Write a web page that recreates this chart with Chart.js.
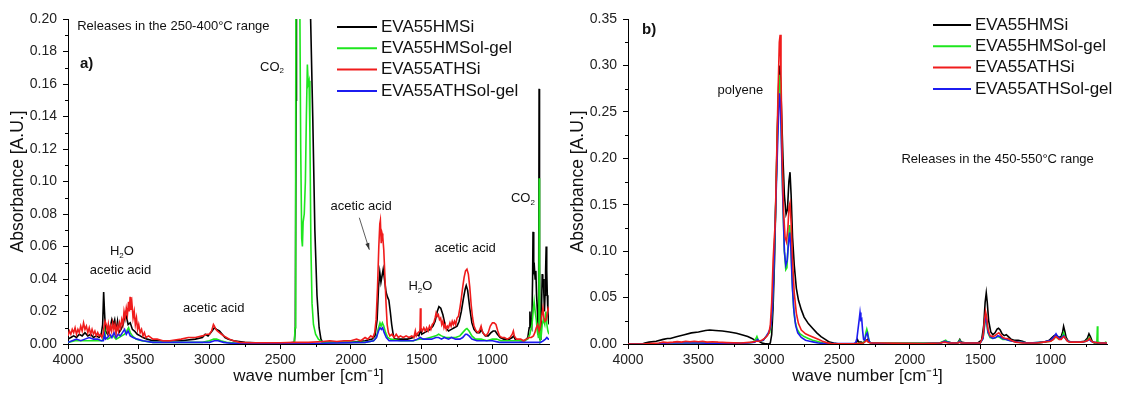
<!DOCTYPE html>
<html>
<head>
<meta charset="utf-8">
<script src="https://cdn.jsdelivr.net/npm/chart.js@4.4.1/dist/chart.umd.min.js"></script>
<style>
  body { margin: 0; background: #fff; }
  #wrap { position: relative; width: 1126px; height: 394px; }
  .panel { position: absolute; top: 0; height: 394px; }
</style>
</head>
<body>
<div id="wrap">
  <div class="panel" style="left:0;width:560px"><canvas id="chartA"></canvas></div>
  <div class="panel" style="left:560px;width:566px"><canvas id="chartB"></canvas></div>
</div>
<script>
const seriesNames = ['EVA55HMSi', 'EVA55HMSol-gel', 'EVA55ATHSi', 'EVA55ATHSol-gel'];
const seriesColors = ['#000000', '#1ee61e', '#f01c1c', '#1c1cf0'];

const xTicks = [4000, 3500, 3000, 2500, 2000, 1500, 1000];
const xMinor = [3750, 3250, 2750, 2250, 1750, 1250, 750];
const yTicksA = [0, 0.02, 0.04, 0.06, 0.08, 0.10, 0.12, 0.14, 0.16, 0.18, 0.20];
const yMinorA = [0.01, 0.03, 0.05, 0.07, 0.09, 0.11, 0.13, 0.15, 0.17, 0.19];
const yTicksB = [0, 0.05, 0.10, 0.15, 0.20, 0.25, 0.30, 0.35];
const yMinorB = [0.025, 0.075, 0.125, 0.175, 0.225, 0.275, 0.325];

// panel a) releases 250-400 °C  [wave number, absorbance]
const hmsiA = [[4000,0.003],[3980,0.004],[3960,0.005],[3940,0.004],[3920,0.006],[3900,0.005],[3880,0.007],[3860,0.005],[3840,0.006],[3820,0.004],[3800,0.005],[3780,0.004],[3765,0.006],[3755,0.012],[3748,0.032],[3742,0.02],[3735,0.008],[3720,0.006],[3705,0.009],[3690,0.015],[3680,0.012],[3670,0.015],[3660,0.008],[3650,0.014],[3640,0.007],[3625,0.009],[3610,0.012],[3595,0.019],[3585,0.016],[3575,0.012],[3560,0.013],[3545,0.009],[3530,0.008],[3510,0.006],[3490,0.005],[3470,0.004],[3440,0.003],[3400,0.002],[3300,0.002],[3200,0.002],[3100,0.003],[3050,0.004],[3030,0.006],[3010,0.005],[2990,0.007],[2965,0.01],[2950,0.009],[2930,0.008],[2910,0.006],[2890,0.004],[2870,0.003],[2830,0.002],[2750,0.001],[2600,0.0005],[2450,0.0005],[2400,0.001],[2393,0.01],[2388,0.15],[2385,0.25],[2300,0.25],[2285,0.2],[2270,0.14],[2255,0.07],[2240,0.03],[2225,0.01],[2212,0.003],[2200,0.001],[2100,0.001],[2000,0.001],[1900,0.002],[1850,0.003],[1830,0.005],[1815,0.015],[1805,0.035],[1796,0.044],[1788,0.038],[1780,0.042],[1772,0.046],[1763,0.04],[1752,0.032],[1742,0.029],[1732,0.027],[1722,0.02],[1712,0.012],[1700,0.005],[1690,0.003],[1650,0.003],[1600,0.003],[1560,0.004],[1540,0.006],[1520,0.005],[1508,0.009],[1500,0.006],[1480,0.007],[1460,0.008],[1440,0.009],[1420,0.011],[1405,0.014],[1390,0.02],[1378,0.023],[1365,0.022],[1350,0.018],[1340,0.014],[1330,0.01],[1310,0.008],[1290,0.009],[1270,0.01],[1250,0.011],[1235,0.014],[1220,0.02],[1205,0.028],[1192,0.034],[1185,0.036],[1175,0.033],[1160,0.022],[1145,0.013],[1130,0.009],[1110,0.007],[1090,0.007],[1078,0.009],[1068,0.007],[1050,0.005],[1030,0.005],[1010,0.007],[995,0.008],[980,0.008],[965,0.006],[945,0.004],[920,0.003],[880,0.003],[860,0.004],[850,0.005],[840,0.003],[800,0.002],[770,0.002],[750,0.004],[740,0.01],[735,0.02],[730,0.012],[722,0.01],[716,0.04],[713,0.069],[708,0.045],[703,0.047],[698,0.04],[693,0.045],[688,0.03],[682,0.02],[677,0.006],[673,0.03],[670,0.157],[667,0.05],[663,0.003],[658,0.005],[653,0.02],[648,0.043],[644,0.035],[640,0.04],[636,0.03],[632,0.02],[628,0.03],[624,0.045],[620,0.06],[616,0.045],[612,0.03],[608,0.02],[604,0.015],[600,0.012]];
const hmsolA = [[4000,0.001],[3950,0.002],[3900,0.002],[3850,0.002],[3800,0.002],[3760,0.002],[3748,0.004],[3740,0.008],[3735,0.004],[3720,0.003],[3700,0.004],[3680,0.005],[3660,0.003],[3640,0.004],[3620,0.005],[3600,0.006],[3585,0.008],[3572,0.010],[3560,0.007],[3545,0.005],[3520,0.003],[3480,0.002],[3400,0.001],[3200,0.001],[3050,0.001],[3000,0.002],[2970,0.003],[2950,0.003],[2920,0.002],[2880,0.001],[2800,0.0005],[2420,0.0005],[2400,0.001],[2395,0.01],[2391,0.12],[2388,0.25],[2370,0.25],[2362,0.22],[2355,0.12],[2348,0.065],[2343,0.06],[2338,0.075],[2330,0.08],[2322,0.10],[2315,0.14],[2308,0.172],[2302,0.16],[2296,0.162],[2290,0.13],[2283,0.06],[2275,0.025],[2265,0.012],[2250,0.006],[2230,0.003],[2200,0.001],[2000,0.001],[1900,0.001],[1840,0.002],[1820,0.004],[1808,0.009],[1795,0.013],[1787,0.011],[1778,0.013],[1768,0.011],[1755,0.007],[1740,0.004],[1720,0.003],[1650,0.002],[1560,0.002],[1520,0.003],[1480,0.003],[1440,0.004],[1400,0.005],[1380,0.006],[1360,0.005],[1330,0.004],[1300,0.004],[1260,0.004],[1230,0.005],[1210,0.007],[1190,0.009],[1180,0.0095],[1165,0.008],[1145,0.005],[1120,0.003],[1080,0.003],[1040,0.002],[1000,0.003],[970,0.003],[940,0.002],[850,0.002],[780,0.002],[750,0.003],[735,0.006],[720,0.012],[712,0.02],[705,0.026],[698,0.02],[690,0.015],[683,0.008],[675,0.004],[671,0.03],[669,0.102],[667,0.03],[663,0.002],[655,0.005],[648,0.012],[640,0.015],[630,0.012],[622,0.02],[615,0.012],[608,0.008],[600,0.006]];
const athsiA = [[4000,0.005],[3990,0.008],[3980,0.006],[3970,0.009],[3960,0.007],[3950,0.010],[3940,0.006],[3930,0.009],[3920,0.007],[3910,0.011],[3900,0.008],[3890,0.013],[3880,0.009],[3870,0.011],[3860,0.007],[3850,0.010],[3840,0.006],[3830,0.009],[3820,0.006],[3810,0.008],[3800,0.005],[3790,0.007],[3780,0.005],[3770,0.006],[3760,0.004],[3752,0.006],[3745,0.011],[3738,0.014],[3730,0.012],[3722,0.008],[3715,0.012],[3708,0.007],[3700,0.011],[3692,0.008],[3684,0.013],[3676,0.009],[3668,0.012],[3660,0.007],[3652,0.011],[3644,0.008],[3636,0.013],[3628,0.010],[3620,0.015],[3612,0.012],[3604,0.020],[3596,0.016],[3588,0.022],[3580,0.018],[3572,0.026],[3566,0.020],[3561,0.029],[3555,0.021],[3548,0.025],[3540,0.016],[3532,0.020],[3524,0.012],[3516,0.016],[3508,0.009],[3500,0.012],[3490,0.007],[3480,0.009],[3470,0.005],[3460,0.007],[3450,0.004],[3430,0.005],[3400,0.003],[3370,0.003],[3330,0.002],[3280,0.002],[3200,0.003],[3150,0.004],[3100,0.004],[3050,0.005],[3020,0.006],[3000,0.006],[2985,0.008],[2972,0.012],[2965,0.011],[2955,0.009],[2945,0.008],[2930,0.007],[2915,0.006],[2900,0.005],[2880,0.004],[2860,0.003],[2830,0.002],[2790,0.001],[2700,0.0008],[2500,0.0008],[2400,0.001],[2300,0.001],[2200,0.0015],[2150,0.002],[2100,0.0015],[2050,0.002],[2000,0.002],[1960,0.003],[1930,0.002],[1900,0.004],[1880,0.003],[1860,0.005],[1845,0.004],[1832,0.007],[1822,0.015],[1812,0.035],[1803,0.06],[1796,0.074],[1792,0.076],[1786,0.062],[1780,0.068],[1775,0.066],[1768,0.058],[1760,0.042],[1752,0.025],[1744,0.012],[1735,0.007],[1725,0.005],[1710,0.006],[1695,0.004],[1680,0.006],[1665,0.004],[1650,0.005],[1630,0.004],[1610,0.005],[1590,0.004],[1570,0.005],[1555,0.004],[1545,0.008],[1538,0.005],[1525,0.007],[1512,0.008],[1509,0.022],[1505,0.010],[1495,0.008],[1485,0.010],[1475,0.008],[1465,0.010],[1455,0.008],[1445,0.011],[1435,0.009],[1425,0.012],[1415,0.013],[1405,0.016],[1398,0.019],[1390,0.017],[1382,0.018],[1374,0.015],[1366,0.016],[1358,0.012],[1350,0.014],[1342,0.010],[1334,0.012],[1326,0.009],[1318,0.011],[1310,0.010],[1300,0.013],[1292,0.011],[1284,0.014],[1276,0.012],[1268,0.014],[1260,0.012],[1250,0.016],[1240,0.017],[1230,0.022],[1220,0.028],[1210,0.035],[1200,0.041],[1190,0.045],[1180,0.046],[1170,0.043],[1160,0.035],[1150,0.024],[1140,0.016],[1130,0.011],[1115,0.008],[1100,0.007],[1088,0.009],[1080,0.011],[1072,0.008],[1060,0.006],[1045,0.005],[1030,0.007],[1015,0.011],[1000,0.013],[988,0.013],[975,0.012],[962,0.008],[950,0.005],[935,0.004],[915,0.004],[895,0.003],[875,0.004],[860,0.006],[852,0.008],[845,0.005],[830,0.003],[800,0.003],[780,0.002],[760,0.003],[740,0.004],[725,0.004],[710,0.005],[700,0.007],[690,0.01],[680,0.012],[670,0.008],[660,0.012],[650,0.018],[643,0.022],[636,0.016],[628,0.014],[620,0.015],[612,0.019],[606,0.022],[600,0.021]];
const athsolA = [[4000,0.001],[3970,0.002],[3940,0.003],[3910,0.002],[3880,0.003],[3850,0.004],[3820,0.003],[3790,0.003],[3765,0.002],[3750,0.002],[3742,0.006],[3735,0.003],[3720,0.004],[3705,0.006],[3690,0.004],[3675,0.007],[3660,0.004],[3645,0.006],[3630,0.005],[3615,0.007],[3600,0.009],[3588,0.006],[3575,0.008],[3560,0.005],[3540,0.004],[3510,0.003],[3470,0.002],[3400,0.001],[3100,0.001],[3000,0.001],[2965,0.002],[2940,0.002],[2900,0.001],[2850,0.0005],[2400,0.0005],[2200,0.0005],[1900,0.001],[1840,0.002],[1820,0.004],[1805,0.008],[1795,0.010],[1785,0.009],[1776,0.010],[1765,0.007],[1750,0.004],[1730,0.002],[1700,0.002],[1600,0.002],[1560,0.002],[1530,0.003],[1510,0.004],[1490,0.003],[1460,0.003],[1430,0.003],[1400,0.004],[1380,0.004],[1360,0.003],[1340,0.004],[1310,0.003],[1290,0.004],[1260,0.003],[1230,0.003],[1210,0.004],[1190,0.006],[1180,0.006],[1165,0.005],[1145,0.003],[1110,0.002],[1050,0.002],[1000,0.002],[950,0.001],[850,0.001],[750,0.001],[700,0.001],[660,0.001],[640,0.002],[625,0.003],[615,0.004],[605,0.003],[600,0.003]];

// panel b) releases 450-550 °C
const hmsiB = [[4000,0],[3900,0],[3880,0.001],[3850,0.002],[3800,0.003],[3750,0.005],[3720,0.006],[3700,0.006],[3650,0.008],[3600,0.010],[3550,0.012],[3500,0.013],[3450,0.0145],[3420,0.015],[3380,0.0145],[3330,0.014],[3280,0.013],[3230,0.0115],[3180,0.0095],[3150,0.008],[3120,0.006],[3100,0.004],[3085,0.004],[3070,0.003],[3050,0.001],[3030,0.0005],[3000,0],[2990,0.001],[2980,0.01],[2970,0.04],[2960,0.09],[2950,0.16],[2940,0.23],[2930,0.28],[2922,0.30],[2912,0.26],[2900,0.2],[2890,0.16],[2878,0.14],[2868,0.145],[2858,0.175],[2850,0.185],[2842,0.16],[2832,0.115],[2820,0.085],[2805,0.06],[2790,0.047],[2770,0.037],[2750,0.029],[2720,0.022],[2690,0.017],[2660,0.012],[2630,0.008],[2600,0.005],[2570,0.002],[2540,0.001],[2500,0],[2400,0],[2380,0.001],[2372,0.005],[2362,0.002],[2345,0.002],[2330,0.001],[2310,0.004],[2300,0.005],[2290,0.002],[2270,0.001],[2200,0.0005],[1900,0.0005],[1780,0.001],[1750,0.003],[1730,0.002],[1700,0.001],[1660,0.001],[1645,0.005],[1635,0.002],[1600,0.001],[1520,0.001],[1490,0.004],[1475,0.02],[1465,0.045],[1457,0.055],[1450,0.045],[1440,0.025],[1425,0.013],[1410,0.01],[1395,0.012],[1380,0.016],[1370,0.017],[1358,0.015],[1345,0.011],[1330,0.009],[1315,0.01],[1300,0.008],[1280,0.005],[1260,0.004],[1230,0.004],[1200,0.003],[1170,0.001],[1100,0.001],[1050,0.002],[1010,0.004],[990,0.007],[975,0.009],[962,0.010],[950,0.008],[938,0.007],[925,0.008],[915,0.013],[908,0.019],[900,0.014],[890,0.007],[875,0.003],[850,0.002],[800,0.002],[760,0.003],[740,0.006],[728,0.011],[718,0.008],[705,0.003],[690,0.001],[650,0.001],[600,0.001]];
const hmsolB = [[4000,0],[3800,0],[3750,0.001],[3600,0.001],[3500,0.001],[3300,0.001],[3150,0.001],[3110,0.002],[3095,0.005],[3085,0.008],[3075,0.004],[3060,0.003],[3040,0.004],[3020,0.008],[3005,0.011],[2995,0.012],[2985,0.02],[2975,0.04],[2965,0.08],[2955,0.13],[2945,0.19],[2935,0.25],[2925,0.29],[2918,0.28],[2910,0.22],[2900,0.15],[2890,0.1],[2880,0.08],[2872,0.082],[2862,0.11],[2853,0.128],[2845,0.11],[2835,0.07],[2825,0.04],[2815,0.025],[2800,0.016],[2780,0.011],[2750,0.008],[2720,0.006],[2690,0.004],[2660,0.003],[2630,0.0015],[2600,0.0007],[2550,0.0003],[2400,0.0003],[2330,0.001],[2320,0.004],[2312,0.012],[2305,0.016],[2298,0.012],[2290,0.004],[2280,0.001],[2200,0.001],[1900,0.001],[1790,0.001],[1760,0.003],[1745,0.004],[1730,0.002],[1700,0.001],[1660,0.001],[1645,0.004],[1635,0.001],[1600,0.001],[1500,0.001],[1480,0.006],[1470,0.018],[1462,0.028],[1455,0.024],[1445,0.012],[1430,0.007],[1410,0.006],[1390,0.007],[1375,0.008],[1360,0.007],[1340,0.005],[1320,0.005],[1300,0.004],[1270,0.003],[1230,0.002],[1150,0.001],[1050,0.002],[1000,0.003],[975,0.006],[962,0.008],[950,0.006],[935,0.005],[920,0.007],[908,0.012],[900,0.008],[885,0.004],[860,0.002],[780,0.002],[750,0.003],[735,0.005],[725,0.007],[715,0.004],[700,0.002],[680,0.001],[672,0.002],[668,0.019],[665,0.002],[640,0.001],[620,0.001],[610,0.002],[600,0.001]];
const athsiB = [[4000,0],[3900,0],[3850,0.0005],[3780,0.001],[3750,0.002],[3720,0.0015],[3680,0.002],[3650,0.0025],[3620,0.002],[3590,0.003],[3560,0.0025],[3530,0.003],[3500,0.0025],[3470,0.003],[3440,0.002],[3400,0.0025],[3360,0.002],[3300,0.0015],[3200,0.001],[3120,0.002],[3090,0.003],[3070,0.003],[3050,0.004],[3030,0.006],[3010,0.009],[3000,0.012],[2990,0.02],[2980,0.045],[2970,0.09],[2962,0.113],[2955,0.13],[2945,0.2],[2935,0.27],[2926,0.325],[2920,0.333],[2914,0.29],[2905,0.2],[2895,0.14],[2885,0.115],[2875,0.11],[2865,0.125],[2857,0.148],[2850,0.152],[2842,0.13],[2832,0.09],[2820,0.055],[2805,0.033],[2790,0.022],[2770,0.015],[2740,0.011],[2710,0.009],[2680,0.007],[2650,0.005],[2620,0.003],[2590,0.0015],[2560,0.0005],[2500,0.0003],[2400,0.0003],[2330,0.001],[2312,0.003],[2304,0.004],[2296,0.002],[2280,0.001],[2200,0.001],[1900,0.0005],[1790,0.001],[1750,0.002],[1730,0.001],[1660,0.001],[1645,0.002],[1635,0.001],[1500,0.001],[1480,0.008],[1470,0.025],[1462,0.035],[1455,0.03],[1445,0.016],[1430,0.009],[1410,0.008],[1395,0.009],[1380,0.011],[1368,0.012],[1355,0.01],[1340,0.007],[1320,0.006],[1305,0.006],[1280,0.004],[1250,0.002],[1200,0.001],[1100,0.001],[1050,0.002],[1000,0.003],[980,0.005],[965,0.008],[955,0.007],[940,0.005],[925,0.005],[915,0.007],[905,0.008],[895,0.006],[880,0.003],[860,0.002],[780,0.002],[750,0.003],[735,0.004],[725,0.006],[715,0.004],[700,0.002],[650,0.001],[600,0.001]];
const athsolB = [[4000,0],[3800,0],[3700,0.001],[3500,0.001],[3300,0.0005],[3150,0.001],[3100,0.002],[3080,0.005],[3070,0.003],[3040,0.004],[3020,0.008],[3005,0.012],[2995,0.015],[2985,0.02],[2975,0.04],[2965,0.08],[2955,0.13],[2945,0.18],[2935,0.23],[2925,0.27],[2918,0.26],[2910,0.21],[2900,0.15],[2890,0.1],[2880,0.085],[2870,0.09],[2860,0.11],[2852,0.12],[2843,0.1],[2833,0.06],[2822,0.035],[2810,0.02],[2795,0.012],[2770,0.007],[2740,0.004],[2710,0.003],[2680,0.002],[2650,0.001],[2600,0.0005],[2400,0.0005],[2385,0.001],[2375,0.006],[2368,0.015],[2360,0.025],[2353,0.034],[2347,0.026],[2341,0.027],[2335,0.015],[2328,0.005],[2320,0.004],[2310,0.01],[2302,0.012],[2295,0.007],[2285,0.002],[2270,0.001],[2200,0.0005],[1900,0.0005],[1780,0.001],[1750,0.003],[1735,0.002],[1700,0.001],[1660,0.001],[1645,0.003],[1635,0.001],[1500,0.001],[1480,0.006],[1470,0.02],[1462,0.03],[1455,0.026],[1445,0.013],[1430,0.008],[1410,0.006],[1390,0.007],[1375,0.009],[1360,0.008],[1340,0.006],[1320,0.005],[1300,0.004],[1270,0.003],[1230,0.002],[1150,0.001],[1050,0.002],[1000,0.004],[975,0.008],[962,0.011],[950,0.008],[935,0.006],[920,0.007],[908,0.009],[900,0.007],[885,0.004],[860,0.002],[780,0.002],[750,0.003],[735,0.004],[725,0.005],[715,0.003],[700,0.002],[650,0.001],[600,0.001]];

const FONT = "Arial, 'Liberation Sans', sans-serif";

// text parts: [string, isSubscript]
function drawParts(ctx, parts, x, y, size) {
    parts.forEach(p => {
        if (p[1]) {
            ctx.font = Math.round(size * 0.65) + 'px ' + FONT
            ctx.fillText(p[0], x, y + size * 0.3)
        } else {
            ctx.font = size + 'px ' + FONT
            ctx.fillText(p[0], x, y)
        }
        x += ctx.measureText(p[0]).width
    })
}

const decor = {
    id: 'decor',
    afterDraw(chart, args, o) {
        const ctx = chart.ctx
        const xs = chart.scales.x, ys = chart.scales.y, area = chart.chartArea
        ctx.save()
        ctx.strokeStyle = '#000'
        ctx.lineWidth = 1
        // minor ticks
        o.xMinor.forEach(v => {
            const px = Math.round(xs.getPixelForValue(v)) + 0.5
            ctx.beginPath(); ctx.moveTo(px, area.bottom); ctx.lineTo(px, area.bottom + 3); ctx.stroke()
        })
        o.yMinor.forEach(v => {
            const py = Math.round(ys.getPixelForValue(v)) + 0.5
            ctx.beginPath(); ctx.moveTo(area.left, py); ctx.lineTo(area.left - 3, py); ctx.stroke()
        })
        // legend
        ctx.textBaseline = 'middle'
        ctx.fillStyle = '#111'
        seriesNames.forEach((name, i) => {
            const ly = o.legend.y + i * 21.3
            ctx.strokeStyle = seriesColors[i]
            ctx.lineWidth = 2
            ctx.beginPath(); ctx.moveTo(o.legend.x, ly); ctx.lineTo(o.legend.x + o.legend.len, ly); ctx.stroke()
            ctx.font = '17px ' + FONT
            ctx.fillText(name, o.legend.x + o.legend.len + 4, ly)
        })
        // panel label
        ctx.font = 'bold 15px ' + FONT
        ctx.fillText(o.panel.text, area.left + o.panel.dx, area.top + o.panel.dy)
        // peak labels at spectrum positions
        o.notes.forEach(n => {
            drawParts(ctx, n.parts, xs.getPixelForValue(n.wn), ys.getPixelForValue(n.abs), 13)
        })
        // arrow
        if (o.arrow) {
            const x1 = xs.getPixelForValue(o.arrow[0]), y1 = ys.getPixelForValue(o.arrow[1])
            const x2 = xs.getPixelForValue(o.arrow[2]), y2 = ys.getPixelForValue(o.arrow[3])
            ctx.strokeStyle = '#333'
            ctx.fillStyle = '#333'
            ctx.lineWidth = 0.8
            ctx.beginPath(); ctx.moveTo(x1, y1); ctx.lineTo(x2, y2); ctx.stroke()
            const a = Math.atan2(y2 - y1, x2 - x1)
            ctx.beginPath()
            ctx.moveTo(x2, y2)
            ctx.lineTo(x2 - 7 * Math.cos(a - 0.3), y2 - 7 * Math.sin(a - 0.3))
            ctx.lineTo(x2 - 7 * Math.cos(a + 0.3), y2 - 7 * Math.sin(a + 0.3))
            ctx.closePath(); ctx.fill()
        }
        ctx.restore()
    }
}

function makeChart(canvas, series, yTicks, yMinor, padRight, plugOpts) {
    return new Chart(canvas, {
        type: 'line',
        data: {
            datasets: series.map((s, i) => ({
                label: seriesNames[i],
                data: s.map(p => ({x: p[0], y: p[1]})),
                borderColor: seriesColors[i],
                borderWidth: 1.6,
                pointRadius: 0,
                tension: 0,
                order: [4, 3, 1, 2][i]
            }))
        },
        options: {
            responsive: true,
            maintainAspectRatio: false,
            animation: false,
            layout: {padding: {top: 19, right: padRight, left: 0, bottom: 0}},
            plugins: {legend: {display: false}, tooltip: {enabled: false}, decor: plugOpts},
            scales: {
                x: {
                    type: 'linear', min: 600, max: 4000, reverse: true,
                    afterBuildTicks: s => { s.ticks = xTicks.map(v => ({value: v})) },
                    afterFit: s => { s.height = 50 },
                    border: {color: '#000', width: 1},
                    grid: {drawOnChartArea: false, tickLength: 5, color: '#000'},
                    ticks: {color: '#222', font: {family: FONT, size: 14}, padding: 3, maxRotation: 0,
                        callback: v => String(v)},
                    title: {display: true, text: 'wave number [cm\u207B\u00B9]', color: '#111',
                        font: {family: FONT, size: 17}, padding: {top: 0, bottom: 7}}
                },
                y: {
                    min: 0, max: yTicks[yTicks.length - 1],
                    afterBuildTicks: s => { s.ticks = yTicks.map(v => ({value: v})) },
                    afterFit: s => { s.width = 68 },
                    border: {color: '#000', width: 1},
                    grid: {drawOnChartArea: false, tickLength: 5, color: '#000'},
                    ticks: {color: '#222', font: {family: FONT, size: 14}, padding: 6,
                        callback: v => v.toFixed(2)},
                    title: {display: true, text: 'Absorbance [A.U.]', color: '#111',
                        font: {family: FONT, size: 17.5}, padding: {top: 8, bottom: 0}}
                }
            }
        },
        plugins: [decor]
    })
}

makeChart(document.getElementById('chartA'), [hmsiA, hmsolA, athsiA, athsolA], yTicksA, yMinorA, 11, {
    xMinor: xMinor, yMinor: yMinorA,
    legend: {x: 337, y: 27, len: 40},
    panel: {text: 'a)', dx: 12, dy: 45},
    notes: [
        {parts: [['Releases in the 250-400\u00B0C range']], wn: 3935, abs: 0.1955},
        {parts: [['CO'], ['2', 1]], wn: 2642, abs: 0.1705},
        {parts: [['H'], ['2', 1], ['O']], wn: 3704, abs: 0.0568},
        {parts: [['acetic acid']], wn: 3846, abs: 0.0451},
        {parts: [['acetic acid']], wn: 3187, abs: 0.0217},
        {parts: [['acetic acid']], wn: 2145, abs: 0.0845},
        {parts: [['H'], ['2', 1], ['O']], wn: 1594, abs: 0.0352},
        {parts: [['acetic acid']], wn: 1410, abs: 0.0586},
        {parts: [['CO'], ['2', 1]], wn: 869, abs: 0.0894}
    ],
    arrow: [1941, 0.0777, 1870, 0.058]
})

makeChart(document.getElementById('chartB'), [hmsiB, hmsolB, athsiB, athsolB], yTicksB, yMinorB, 19, {
    xMinor: xMinor, yMinor: yMinorB,
    legend: {x: 373, y: 25, len: 38},
    panel: {text: 'b)', dx: 14, dy: 11},
    notes: [
        {parts: [['polyene']], wn: 3364, abs: 0.2727},
        {parts: [['Releases in the 450-550\u00B0C range']], wn: 2059, abs: 0.1985}
    ]
})
</script>
</body>
</html>
